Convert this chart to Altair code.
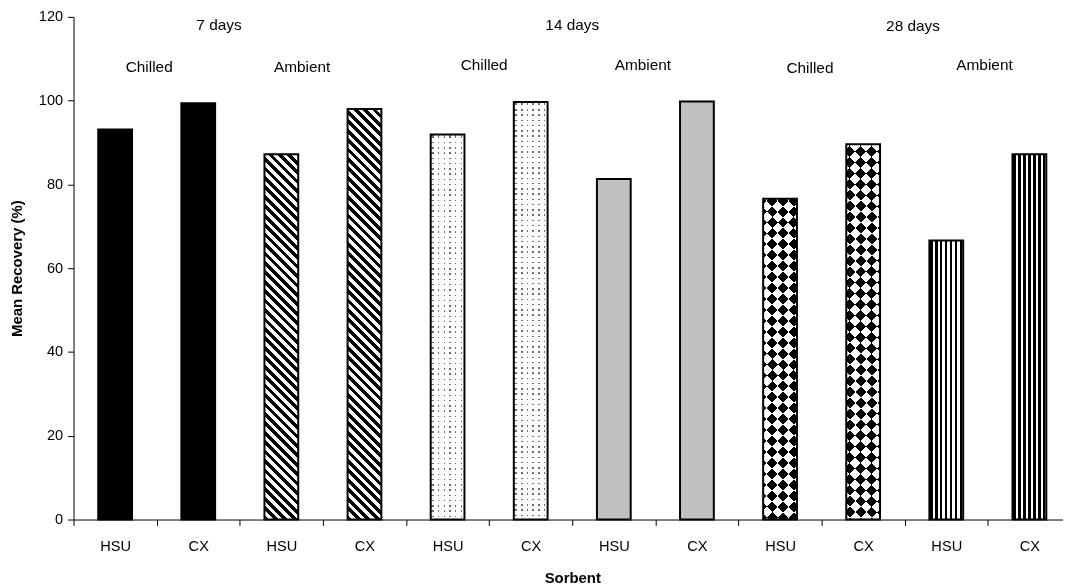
import altair as alt
import pandas as pd

# ---------------- data ----------------
day_groups = ["7 days"] * 4 + ["14 days"] * 4 + ["28 days"] * 4
storage = ["Chilled", "Chilled", "Ambient", "Ambient"] * 3
sorbent = ["HSU", "CX"] * 6
recovery = [93.1, 99.4, 87.2, 98.0, 91.9, 99.7, 81.3, 99.8, 76.6, 89.6, 66.6, 87.2]

# annotation labels (x in category-band units from the left axis, y in %)
ann_text = ["7 days", "14 days", "28 days",
            "Chilled", "Ambient", "Chilled", "Ambient", "Chilled", "Ambient"]
ann_x = [1.75, 6.0, 10.1, 0.91, 2.75, 4.94, 6.85, 8.86, 10.96]
ann_y = [118.1, 118.1, 117.9, 108.1, 108.1, 108.6, 108.6, 107.7, 108.6]

y_ticks = [0, 20, 40, 60, 80, 100, 120]

# ---------------- layout / style ----------------
FONT = "Liberation Sans, Arial, Helvetica, sans-serif"
PLOT_W = 996
RANGE_W = 1004
PLOT_H = 506
Y_MAX = 120
BAR_W = 34
BLACK = "#000000"
WHITE = "#ffffff"
GRAY = "#c0c0c0"
DOT = "#6e6e6e"
CLEAR = "rgba(255,255,255,0)"

ids = [f"{d}|{s}|{b}" for d, s, b in zip(day_groups, storage, sorbent)]
df = pd.DataFrame({"id": ids, "day": day_groups, "storage": storage,
                   "sorbent": sorbent, "recovery": recovery})
ann_df = pd.DataFrame({"label": ann_text, "ax": ann_x, "ay": ann_y})


def periodic(total, period, on, c_on, c_off, phase=0.0):
    segs = []
    s = -phase
    while s < total:
        segs.append((s, s + on, c_on))
        segs.append((s + on, s + period, c_off))
        s += period
    out = []
    for a, b, col in segs:
        a = max(0.0, min(total, a))
        b = max(0.0, min(total, b))
        if b > a:
            out.append((a, b, col))
    return out


def to_stops(segs, denom):
    stops = []
    for a, b, col in segs:
        stops.append({"offset": round(a / denom, 6), "color": col})
        stops.append({"offset": round(b / denom, 6), "color": col})
    return stops


def grad_across(segs):
    return {"gradient": "linear", "x1": 0, "y1": 0, "x2": 1, "y2": 0,
            "stops": to_stops(segs, BAR_W)}


def grad_down(segs, H):
    return {"gradient": "linear", "x1": 0, "y1": 0, "x2": 0, "y2": 1,
            "stops": to_stops(segs, H)}


def grad_diag(H, kind, period, on, c_on, c_off, phase=0.0):
    k = H / BAR_W
    denom = BAR_W + H * H / BAR_W
    total = BAR_W + H
    segs = periodic(total, period, on, c_on, c_off, phase)
    g = {"gradient": "linear", "stops": to_stops(segs, denom)}
    if kind == "back":   # "\" stripes
        g.update({"x1": 0, "y1": 1, "x2": 1, "y2": 1 - k})
    else:                # "/" stripes
        g.update({"x1": 0, "y1": 0, "x2": 1, "y2": k})
    return g


x_axis = alt.Axis(tickBand="extent", labelAngle=0,
                  labelExpr="split(datum.value, '|')[2]",
                  grid=False, tickSize=6, tickColor=BLACK, tickWidth=1,
                  domainColor=BLACK, domainWidth=1,
                  labelColor=BLACK, labelFont=FONT, labelFontSize=14.7,
                  labelPadding=13, labelOverlap=False,
                  titleFont=FONT, titleFontSize=15, titleFontWeight="bold",
                  titleColor=BLACK, titlePadding=18)
y_axis = alt.Axis(values=y_ticks, grid=False, tickSize=6, tickColor=BLACK,
                  tickWidth=1, domainColor=BLACK, domainWidth=1,
                  labelColor=BLACK, labelFont=FONT, labelFontSize=14.7,
                  labelPadding=5, titleFont=FONT, titleFontSize=15,
                  titleFontWeight="bold", titleColor=BLACK, titlePadding=14)

x_scale = alt.Scale(domain=ids, range=[0, RANGE_W], paddingInner=0, paddingOuter=0)
y_scale = alt.Scale(domain=[0, Y_MAX], nice=False, zero=True)

X = alt.X("id:N", sort=ids, scale=x_scale, axis=x_axis, title="Sorbent")
Y = alt.Y("recovery:Q", scale=y_scale, axis=y_axis, title="Mean Recovery (%)")

base = alt.Chart(df)
bar_layers = []
for i, bid in enumerate(ids):
    H = recovery[i] * PLOT_H / Y_MAX
    key = (day_groups[i], storage[i])
    fills = []
    if key == ("7 days", "Chilled"):
        fills = [(BLACK, "normal")]
    elif key == ("7 days", "Ambient"):
        fills = [(grad_diag(H, "back", 9.5, 4.8, BLACK, WHITE), "normal")]
    elif key == ("14 days", "Chilled"):
        cols = periodic(BAR_W, 5.7, 1.5, DOT, WHITE, phase=-1.6)
        rows = periodic(H, 5.3, 1.5, CLEAR, WHITE, phase=-2.0)
        fills = [(grad_across(cols), "normal"), (grad_down(rows, H), "normal")]
    elif key == ("14 days", "Ambient"):
        fills = [(GRAY, "normal")]
    elif key == ("28 days", "Chilled"):
        # 45-degree checkerboard of black diamonds: XOR of two stripe sets
        fills = [(grad_diag(H, "fwd", 22.0, 11.0, BLACK, WHITE, phase=5.5), "normal"),
                 (grad_diag(H, "back", 22.0, 11.0, WHITE, BLACK, phase=5.5), "difference")]
    else:
        fills = [(grad_across(periodic(BAR_W, 5.0, 2.2, BLACK, WHITE, phase=-1.0)), "normal")]
    for f, bl in fills:
        mk = dict(size=BAR_W, fill=f, strokeWidth=0)
        if bl != "normal":
            mk["blend"] = bl
        bar_layers.append(
            base.transform_filter(alt.datum.id == bid)
            .mark_bar(**mk)
            .encode(x=X, y=Y)
        )

outline = base.mark_bar(size=BAR_W, filled=False, stroke=BLACK,
                        strokeWidth=2).encode(x=X, y=Y)
bars = alt.layer(*bar_layers, outline)

labels = alt.Chart(ann_df).mark_text(
    font=FONT, fontSize=15.5, color=BLACK, align="center", baseline="middle"
).encode(
    x=alt.X("ax:Q", scale=alt.Scale(domain=[0, 12], range=[0, RANGE_W],
                                    nice=False, zero=False), axis=None),
    y=alt.Y("ay:Q", scale=y_scale, axis=y_axis, title="Mean Recovery (%)"),
    text="label:N",
)

chart = (
    alt.layer(bars, labels)
    .resolve_scale(x="independent")
    .properties(width=PLOT_W, height=PLOT_H,
                autosize=alt.AutoSizeParams(type="none"),
                padding={"left": 66, "top": 7, "right": 0, "bottom": 64})
    .configure(background=WHITE)
    .configure_view(stroke=None)
)

chart.save("out.html", embed_options={"renderer": "svg", "actions": False})
